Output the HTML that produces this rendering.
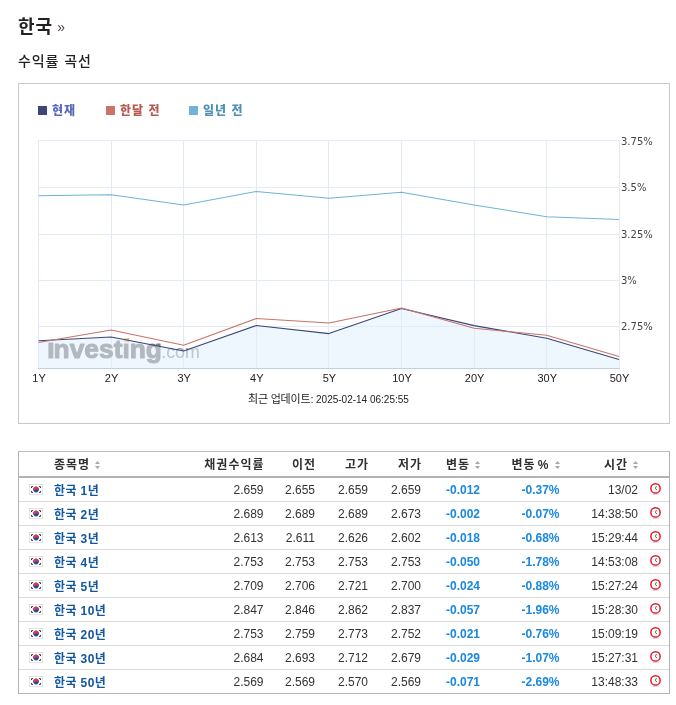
<!DOCTYPE html><html lang="ko"><head><meta charset="utf-8"><title>한국 수익률 곡선</title><style>
html,body{margin:0;padding:0;background:#fff;}
body{width:676px;height:705px;position:relative;overflow:hidden;font-family:"Liberation Sans","Noto Sans CJK KR",sans-serif;color:#333;}
.abs{position:absolute;white-space:nowrap;}
h1{position:absolute;left:18px;top:13px;margin:0;font-size:18px;letter-spacing:1px;line-height:28px;font-weight:bold;color:#222;white-space:nowrap;}
h1 span{font-size:14px;font-weight:normal;color:#4a3a3a;margin-left:4px;letter-spacing:0;position:relative;top:-1px}
h2{position:absolute;left:18px;top:50px;margin:0;font-size:14px;letter-spacing:0.9px;line-height:22px;font-weight:500;color:#222;white-space:nowrap;}
.box{position:absolute;left:18px;top:83px;width:650px;height:339px;border:1px solid #c8c8c8;}
.chart{position:absolute;left:0;top:0;}
.yl{font-family:"DejaVu Sans","Liberation Sans",sans-serif;font-size:10px;fill:#444;}
.xl{font-family:"Liberation Sans",sans-serif;font-size:11px;fill:#222;}
.leg{position:absolute;top:101px;font-size:12px;letter-spacing:1px;line-height:20px;font-weight:bold;white-space:nowrap;}
.leg i{position:absolute;left:0;top:5px;width:9px;height:9px;display:block;}
.leg b{position:absolute;left:14px;top:0;}
.upd{position:absolute;left:248px;top:391px;font-size:10px;line-height:16px;color:#222;white-space:nowrap;}
.upd span{font-size:11px;letter-spacing:-0.2px}
.tbl{position:absolute;left:18px;top:451px;width:650px;height:241px;border:1px solid #b4b4b4;border-top-color:#bdbdbd;}
.hd{position:absolute;left:0;top:0;width:650px;height:24px;border-bottom:2px solid #b3b3b3;font-weight:bold;font-size:12px;letter-spacing:1px;color:#303030;}
.row{position:absolute;left:0;width:650px;height:23px;border-bottom:1px solid #dadada;font-size:12px;color:#333;}
.row:last-child{border-bottom:none}
.c{position:absolute;top:0;line-height:24px;white-space:nowrap;}
.hd .c{line-height:27px}
.hd .nos{margin-right:-1px}
.hd .ws{word-spacing:-2px}
.r{text-align:right;}
.nm{left:35px;font-weight:bold;font-size:12px;letter-spacing:0.4px;color:#1256a0;line-height:26px !important}
.ch{font-weight:bold;color:#1888e0;}
.sort{display:inline-block;width:5px;height:8px;margin-left:5px;vertical-align:0px}
.flag{position:absolute;left:10px;top:6px;}
.clk{position:absolute;left:630px;top:4px;}
</style></head><body>
<h1>한국<span>»</span></h1>
<h2>수익률 곡선</h2>
<div class="box"></div>
<svg class="chart" width="676" height="705" viewBox="0 0 676 705">
<path d="M38 140.5 H619" stroke="#e3e9f7" stroke-width="1" fill="none"/>
<path d="M38 187.5 H619" stroke="#e3e9f7" stroke-width="1" fill="none"/>
<path d="M38 234.5 H619" stroke="#e3e9f7" stroke-width="1" fill="none"/>
<path d="M38 280.5 H619" stroke="#e3e9f7" stroke-width="1" fill="none"/>
<path d="M38 326.5 H619" stroke="#e3e9f7" stroke-width="1" fill="none"/>
<path d="M38.5 140 V368" stroke="#e3e9f7" stroke-width="1" fill="none"/>
<path d="M111.5 140 V368" stroke="#e3e9f7" stroke-width="1" fill="none"/>
<path d="M183.5 140 V368" stroke="#e3e9f7" stroke-width="1" fill="none"/>
<path d="M256.5 140 V368" stroke="#e3e9f7" stroke-width="1" fill="none"/>
<path d="M328.5 140 V368" stroke="#e3e9f7" stroke-width="1" fill="none"/>
<path d="M401.5 140 V368" stroke="#e3e9f7" stroke-width="1" fill="none"/>
<path d="M474.5 140 V368" stroke="#e3e9f7" stroke-width="1" fill="none"/>
<path d="M546.5 140 V368" stroke="#e3e9f7" stroke-width="1" fill="none"/>
<path d="M619.5 140 V368" stroke="#e3e9f7" stroke-width="1" fill="none"/>
<g class="wm" fill="#848080" stroke="#848080" stroke-linejoin="round"><text y="357.7" font-family="'Liberation Sans',sans-serif" font-weight="bold" stroke-width="1"><tspan x="47.3" font-size="21.9" textLength="7.3" lengthAdjust="spacingAndGlyphs">I</tspan><tspan x="53.6" font-size="26.4" textLength="108.3" lengthAdjust="spacingAndGlyphs">nvesting</tspan><tspan x="161.2" y="358.2" font-size="19" font-weight="normal" fill="#9a9898" stroke="none" textLength="38.6" lengthAdjust="spacingAndGlyphs">.com</tspan></text><rect x="122.6" y="338.6" width="7.4" height="4.3" fill="#fff" stroke="none"/><path d="M129 337.5L123.4 341.1L129 342.4z" fill="#f5b840" stroke="none"/></g>
<polygon points="38.50,340.75 111.10,337.00 183.70,351.00 256.30,325.50 328.90,333.60 401.50,308.50 474.10,325.60 546.70,338.25 619.00,359.50 619,368 38.5,368" fill="#dfeffd" fill-opacity="0.5"/>
<path d="M38 368.5 H620" stroke="#c0d0e0" stroke-width="1" fill="none"/>
<polyline points="38.50,195.75 111.10,194.75 183.70,205.00 256.30,191.50 328.90,198.25 401.50,192.25 474.10,205.00 546.70,216.75 619.00,219.50" fill="none" stroke="#6fb3d6" stroke-width="1.1" stroke-linejoin="round"/>
<polyline points="38.50,340.75 111.10,337.00 183.70,351.00 256.30,325.50 328.90,333.60 401.50,308.50 474.10,325.60 546.70,338.25 619.00,359.50" fill="none" stroke="#3c4677" stroke-width="1.1" stroke-linejoin="round"/>
<polyline points="38.50,342.50 111.10,330.00 183.70,345.25 256.30,318.50 328.90,323.00 401.50,308.00 474.10,328.25 546.70,335.25 619.00,356.50" fill="none" stroke="#c9736a" stroke-width="1.1" stroke-linejoin="round"/>
<text x="621" y="145" class="yl">3.75%</text>
<text x="621" y="191" class="yl">3.5%</text>
<text x="621" y="238" class="yl">3.25%</text>
<text x="621" y="284" class="yl">3%</text>
<text x="621" y="330" class="yl">2.75%</text>
<text x="39.0" y="382" class="xl" text-anchor="middle">1Y</text>
<text x="111.6" y="382" class="xl" text-anchor="middle">2Y</text>
<text x="184.2" y="382" class="xl" text-anchor="middle">3Y</text>
<text x="256.8" y="382" class="xl" text-anchor="middle">4Y</text>
<text x="329.4" y="382" class="xl" text-anchor="middle">5Y</text>
<text x="402.0" y="382" class="xl" text-anchor="middle">10Y</text>
<text x="474.6" y="382" class="xl" text-anchor="middle">20Y</text>
<text x="547.2" y="382" class="xl" text-anchor="middle">30Y</text>
<text x="619.5" y="382" class="xl" text-anchor="middle">50Y</text>
</svg>
<div class="leg" style="left:38px;color:#5a6bbd"><i style="background:#3c4677"></i><b>현재</b></div>
<div class="leg" style="left:106px;color:#b85a52"><i style="background:#c9736a"></i><b>한달 전</b></div>
<div class="leg" style="left:189px;color:#4f8fb5"><i style="background:#6fb3d6"></i><b>일년 전</b></div>
<div class="upd"><span>최근 업데이트:</span> 2025-02-14 06:25:55</div>
<div class="tbl">
<div class="hd"><span class="c" style="left:35px">종목명<svg class="sort" viewBox="0 0 5 8"><path d="M0 3L2.5 0L5 3zM0 5L2.5 8L5 5z" fill="#a8a8a8"/></svg></span><span class="c r nos" style="right:405.5px">채권수익률</span><span class="c r nos" style="right:354px">이전</span><span class="c r nos" style="right:301px">고가</span><span class="c r nos" style="right:248px">저가</span><span class="c r" style="right:189px">변동<svg class="sort" viewBox="0 0 5 8"><path d="M0 3L2.5 0L5 3zM0 5L2.5 8L5 5z" fill="#a8a8a8"/></svg></span><span class="c r ws" style="right:109.5px">변동 %<svg class="sort" viewBox="0 0 5 8"><path d="M0 3L2.5 0L5 3zM0 5L2.5 8L5 5z" fill="#a8a8a8"/></svg></span><span class="c r" style="right:31px">시간<svg class="sort" viewBox="0 0 5 8"><path d="M0 3L2.5 0L5 3zM0 5L2.5 8L5 5z" fill="#a8a8a8"/></svg></span></div>
<div class="row" style="top:26px"><svg class="flag" width="14" height="12" viewBox="0 0 14 12"><rect x="0.5" y="0.5" width="13" height="10" fill="#fff" stroke="#e3e3e3"/><path d="M0.5 11H13.5" stroke="#eee" stroke-width="0.6"/><g transform="rotate(30 7 5.5)"><circle cx="7" cy="5.5" r="2.8" fill="#2b4a9c"/><path d="M4.2 5.5a2.8 2.8 0 0 1 5.6 0a1.4 1.4 0 0 0 -2.8 0a1.4 1.4 0 0 1 -2.8 0z" fill="#e5394b"/></g><path d="M2.5 4V2.6H4.1M9.9 2.6H11.5V4M2.5 7V8.4H4.1M9.9 8.4H11.5V7" stroke="#3a3a3a" stroke-width="1" fill="none"/></svg><span class="c nm">한국 1년</span><span class="c r" style="right:405.5px">2.659</span><span class="c r" style="right:354px">2.655</span><span class="c r" style="right:301px">2.659</span><span class="c r" style="right:248px">2.659</span><span class="c r ch" style="right:189px">-0.012</span><span class="c r ch" style="right:109.5px">-0.37%</span><span class="c r" style="right:31px">13/02</span><svg class="clk" width="14" height="14" viewBox="0 0 14 14"><ellipse cx="6.5" cy="12.2" rx="4" ry="0.8" fill="#ddd"/><circle cx="6.5" cy="6.4" r="4.65" fill="#fff" stroke="#ea1a22" stroke-width="1.5"/><path d="M7.4 4.2L6.4 6.4L7.7 8" stroke="#444" stroke-width="0.9" fill="none"/></svg></div>
<div class="row" style="top:50px"><svg class="flag" width="14" height="12" viewBox="0 0 14 12"><rect x="0.5" y="0.5" width="13" height="10" fill="#fff" stroke="#e3e3e3"/><path d="M0.5 11H13.5" stroke="#eee" stroke-width="0.6"/><g transform="rotate(30 7 5.5)"><circle cx="7" cy="5.5" r="2.8" fill="#2b4a9c"/><path d="M4.2 5.5a2.8 2.8 0 0 1 5.6 0a1.4 1.4 0 0 0 -2.8 0a1.4 1.4 0 0 1 -2.8 0z" fill="#e5394b"/></g><path d="M2.5 4V2.6H4.1M9.9 2.6H11.5V4M2.5 7V8.4H4.1M9.9 8.4H11.5V7" stroke="#3a3a3a" stroke-width="1" fill="none"/></svg><span class="c nm">한국 2년</span><span class="c r" style="right:405.5px">2.689</span><span class="c r" style="right:354px">2.689</span><span class="c r" style="right:301px">2.689</span><span class="c r" style="right:248px">2.673</span><span class="c r ch" style="right:189px">-0.002</span><span class="c r ch" style="right:109.5px">-0.07%</span><span class="c r" style="right:31px">14:38:50</span><svg class="clk" width="14" height="14" viewBox="0 0 14 14"><ellipse cx="6.5" cy="12.2" rx="4" ry="0.8" fill="#ddd"/><circle cx="6.5" cy="6.4" r="4.65" fill="#fff" stroke="#ea1a22" stroke-width="1.5"/><path d="M7.4 4.2L6.4 6.4L7.7 8" stroke="#444" stroke-width="0.9" fill="none"/></svg></div>
<div class="row" style="top:74px"><svg class="flag" width="14" height="12" viewBox="0 0 14 12"><rect x="0.5" y="0.5" width="13" height="10" fill="#fff" stroke="#e3e3e3"/><path d="M0.5 11H13.5" stroke="#eee" stroke-width="0.6"/><g transform="rotate(30 7 5.5)"><circle cx="7" cy="5.5" r="2.8" fill="#2b4a9c"/><path d="M4.2 5.5a2.8 2.8 0 0 1 5.6 0a1.4 1.4 0 0 0 -2.8 0a1.4 1.4 0 0 1 -2.8 0z" fill="#e5394b"/></g><path d="M2.5 4V2.6H4.1M9.9 2.6H11.5V4M2.5 7V8.4H4.1M9.9 8.4H11.5V7" stroke="#3a3a3a" stroke-width="1" fill="none"/></svg><span class="c nm">한국 3년</span><span class="c r" style="right:405.5px">2.613</span><span class="c r" style="right:354px">2.611</span><span class="c r" style="right:301px">2.626</span><span class="c r" style="right:248px">2.602</span><span class="c r ch" style="right:189px">-0.018</span><span class="c r ch" style="right:109.5px">-0.68%</span><span class="c r" style="right:31px">15:29:44</span><svg class="clk" width="14" height="14" viewBox="0 0 14 14"><ellipse cx="6.5" cy="12.2" rx="4" ry="0.8" fill="#ddd"/><circle cx="6.5" cy="6.4" r="4.65" fill="#fff" stroke="#ea1a22" stroke-width="1.5"/><path d="M7.4 4.2L6.4 6.4L7.7 8" stroke="#444" stroke-width="0.9" fill="none"/></svg></div>
<div class="row" style="top:98px"><svg class="flag" width="14" height="12" viewBox="0 0 14 12"><rect x="0.5" y="0.5" width="13" height="10" fill="#fff" stroke="#e3e3e3"/><path d="M0.5 11H13.5" stroke="#eee" stroke-width="0.6"/><g transform="rotate(30 7 5.5)"><circle cx="7" cy="5.5" r="2.8" fill="#2b4a9c"/><path d="M4.2 5.5a2.8 2.8 0 0 1 5.6 0a1.4 1.4 0 0 0 -2.8 0a1.4 1.4 0 0 1 -2.8 0z" fill="#e5394b"/></g><path d="M2.5 4V2.6H4.1M9.9 2.6H11.5V4M2.5 7V8.4H4.1M9.9 8.4H11.5V7" stroke="#3a3a3a" stroke-width="1" fill="none"/></svg><span class="c nm">한국 4년</span><span class="c r" style="right:405.5px">2.753</span><span class="c r" style="right:354px">2.753</span><span class="c r" style="right:301px">2.753</span><span class="c r" style="right:248px">2.753</span><span class="c r ch" style="right:189px">-0.050</span><span class="c r ch" style="right:109.5px">-1.78%</span><span class="c r" style="right:31px">14:53:08</span><svg class="clk" width="14" height="14" viewBox="0 0 14 14"><ellipse cx="6.5" cy="12.2" rx="4" ry="0.8" fill="#ddd"/><circle cx="6.5" cy="6.4" r="4.65" fill="#fff" stroke="#ea1a22" stroke-width="1.5"/><path d="M7.4 4.2L6.4 6.4L7.7 8" stroke="#444" stroke-width="0.9" fill="none"/></svg></div>
<div class="row" style="top:122px"><svg class="flag" width="14" height="12" viewBox="0 0 14 12"><rect x="0.5" y="0.5" width="13" height="10" fill="#fff" stroke="#e3e3e3"/><path d="M0.5 11H13.5" stroke="#eee" stroke-width="0.6"/><g transform="rotate(30 7 5.5)"><circle cx="7" cy="5.5" r="2.8" fill="#2b4a9c"/><path d="M4.2 5.5a2.8 2.8 0 0 1 5.6 0a1.4 1.4 0 0 0 -2.8 0a1.4 1.4 0 0 1 -2.8 0z" fill="#e5394b"/></g><path d="M2.5 4V2.6H4.1M9.9 2.6H11.5V4M2.5 7V8.4H4.1M9.9 8.4H11.5V7" stroke="#3a3a3a" stroke-width="1" fill="none"/></svg><span class="c nm">한국 5년</span><span class="c r" style="right:405.5px">2.709</span><span class="c r" style="right:354px">2.706</span><span class="c r" style="right:301px">2.721</span><span class="c r" style="right:248px">2.700</span><span class="c r ch" style="right:189px">-0.024</span><span class="c r ch" style="right:109.5px">-0.88%</span><span class="c r" style="right:31px">15:27:24</span><svg class="clk" width="14" height="14" viewBox="0 0 14 14"><ellipse cx="6.5" cy="12.2" rx="4" ry="0.8" fill="#ddd"/><circle cx="6.5" cy="6.4" r="4.65" fill="#fff" stroke="#ea1a22" stroke-width="1.5"/><path d="M7.4 4.2L6.4 6.4L7.7 8" stroke="#444" stroke-width="0.9" fill="none"/></svg></div>
<div class="row" style="top:146px"><svg class="flag" width="14" height="12" viewBox="0 0 14 12"><rect x="0.5" y="0.5" width="13" height="10" fill="#fff" stroke="#e3e3e3"/><path d="M0.5 11H13.5" stroke="#eee" stroke-width="0.6"/><g transform="rotate(30 7 5.5)"><circle cx="7" cy="5.5" r="2.8" fill="#2b4a9c"/><path d="M4.2 5.5a2.8 2.8 0 0 1 5.6 0a1.4 1.4 0 0 0 -2.8 0a1.4 1.4 0 0 1 -2.8 0z" fill="#e5394b"/></g><path d="M2.5 4V2.6H4.1M9.9 2.6H11.5V4M2.5 7V8.4H4.1M9.9 8.4H11.5V7" stroke="#3a3a3a" stroke-width="1" fill="none"/></svg><span class="c nm">한국 10년</span><span class="c r" style="right:405.5px">2.847</span><span class="c r" style="right:354px">2.846</span><span class="c r" style="right:301px">2.862</span><span class="c r" style="right:248px">2.837</span><span class="c r ch" style="right:189px">-0.057</span><span class="c r ch" style="right:109.5px">-1.96%</span><span class="c r" style="right:31px">15:28:30</span><svg class="clk" width="14" height="14" viewBox="0 0 14 14"><ellipse cx="6.5" cy="12.2" rx="4" ry="0.8" fill="#ddd"/><circle cx="6.5" cy="6.4" r="4.65" fill="#fff" stroke="#ea1a22" stroke-width="1.5"/><path d="M7.4 4.2L6.4 6.4L7.7 8" stroke="#444" stroke-width="0.9" fill="none"/></svg></div>
<div class="row" style="top:170px"><svg class="flag" width="14" height="12" viewBox="0 0 14 12"><rect x="0.5" y="0.5" width="13" height="10" fill="#fff" stroke="#e3e3e3"/><path d="M0.5 11H13.5" stroke="#eee" stroke-width="0.6"/><g transform="rotate(30 7 5.5)"><circle cx="7" cy="5.5" r="2.8" fill="#2b4a9c"/><path d="M4.2 5.5a2.8 2.8 0 0 1 5.6 0a1.4 1.4 0 0 0 -2.8 0a1.4 1.4 0 0 1 -2.8 0z" fill="#e5394b"/></g><path d="M2.5 4V2.6H4.1M9.9 2.6H11.5V4M2.5 7V8.4H4.1M9.9 8.4H11.5V7" stroke="#3a3a3a" stroke-width="1" fill="none"/></svg><span class="c nm">한국 20년</span><span class="c r" style="right:405.5px">2.753</span><span class="c r" style="right:354px">2.759</span><span class="c r" style="right:301px">2.773</span><span class="c r" style="right:248px">2.752</span><span class="c r ch" style="right:189px">-0.021</span><span class="c r ch" style="right:109.5px">-0.76%</span><span class="c r" style="right:31px">15:09:19</span><svg class="clk" width="14" height="14" viewBox="0 0 14 14"><ellipse cx="6.5" cy="12.2" rx="4" ry="0.8" fill="#ddd"/><circle cx="6.5" cy="6.4" r="4.65" fill="#fff" stroke="#ea1a22" stroke-width="1.5"/><path d="M7.4 4.2L6.4 6.4L7.7 8" stroke="#444" stroke-width="0.9" fill="none"/></svg></div>
<div class="row" style="top:194px"><svg class="flag" width="14" height="12" viewBox="0 0 14 12"><rect x="0.5" y="0.5" width="13" height="10" fill="#fff" stroke="#e3e3e3"/><path d="M0.5 11H13.5" stroke="#eee" stroke-width="0.6"/><g transform="rotate(30 7 5.5)"><circle cx="7" cy="5.5" r="2.8" fill="#2b4a9c"/><path d="M4.2 5.5a2.8 2.8 0 0 1 5.6 0a1.4 1.4 0 0 0 -2.8 0a1.4 1.4 0 0 1 -2.8 0z" fill="#e5394b"/></g><path d="M2.5 4V2.6H4.1M9.9 2.6H11.5V4M2.5 7V8.4H4.1M9.9 8.4H11.5V7" stroke="#3a3a3a" stroke-width="1" fill="none"/></svg><span class="c nm">한국 30년</span><span class="c r" style="right:405.5px">2.684</span><span class="c r" style="right:354px">2.693</span><span class="c r" style="right:301px">2.712</span><span class="c r" style="right:248px">2.679</span><span class="c r ch" style="right:189px">-0.029</span><span class="c r ch" style="right:109.5px">-1.07%</span><span class="c r" style="right:31px">15:27:31</span><svg class="clk" width="14" height="14" viewBox="0 0 14 14"><ellipse cx="6.5" cy="12.2" rx="4" ry="0.8" fill="#ddd"/><circle cx="6.5" cy="6.4" r="4.65" fill="#fff" stroke="#ea1a22" stroke-width="1.5"/><path d="M7.4 4.2L6.4 6.4L7.7 8" stroke="#444" stroke-width="0.9" fill="none"/></svg></div>
<div class="row" style="top:218px"><svg class="flag" width="14" height="12" viewBox="0 0 14 12"><rect x="0.5" y="0.5" width="13" height="10" fill="#fff" stroke="#e3e3e3"/><path d="M0.5 11H13.5" stroke="#eee" stroke-width="0.6"/><g transform="rotate(30 7 5.5)"><circle cx="7" cy="5.5" r="2.8" fill="#2b4a9c"/><path d="M4.2 5.5a2.8 2.8 0 0 1 5.6 0a1.4 1.4 0 0 0 -2.8 0a1.4 1.4 0 0 1 -2.8 0z" fill="#e5394b"/></g><path d="M2.5 4V2.6H4.1M9.9 2.6H11.5V4M2.5 7V8.4H4.1M9.9 8.4H11.5V7" stroke="#3a3a3a" stroke-width="1" fill="none"/></svg><span class="c nm">한국 50년</span><span class="c r" style="right:405.5px">2.569</span><span class="c r" style="right:354px">2.569</span><span class="c r" style="right:301px">2.570</span><span class="c r" style="right:248px">2.569</span><span class="c r ch" style="right:189px">-0.071</span><span class="c r ch" style="right:109.5px">-2.69%</span><span class="c r" style="right:31px">13:48:33</span><svg class="clk" width="14" height="14" viewBox="0 0 14 14"><ellipse cx="6.5" cy="12.2" rx="4" ry="0.8" fill="#ddd"/><circle cx="6.5" cy="6.4" r="4.65" fill="#fff" stroke="#ea1a22" stroke-width="1.5"/><path d="M7.4 4.2L6.4 6.4L7.7 8" stroke="#444" stroke-width="0.9" fill="none"/></svg></div>
</div>
</body></html>
